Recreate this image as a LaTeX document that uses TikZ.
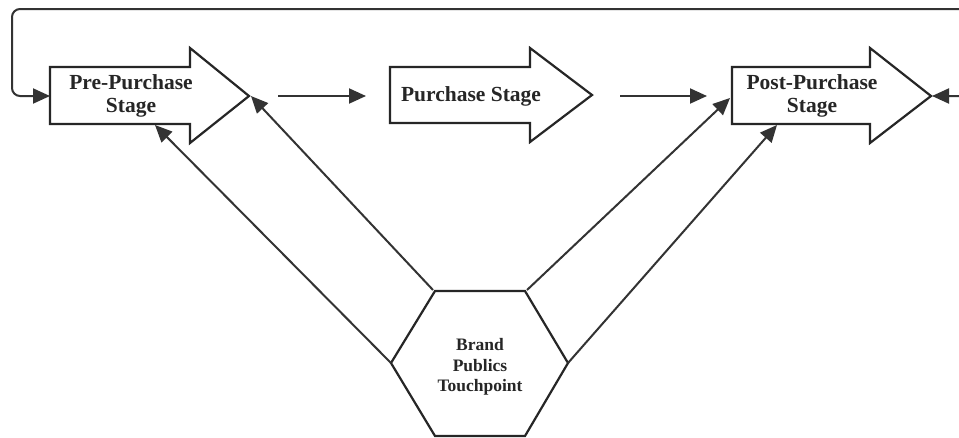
\documentclass[tikz,border=0pt]{standalone}
\usepackage{fontspec}
\setmainfont{Liberation Serif}
\usetikzlibrary{arrows.meta}
\begin{document}
\begin{tikzpicture}[x=1pt,y=-1pt,
  shp/.style={draw=black!85, line width=2.2pt, line join=miter, fill=white},
  conn/.style={draw=black!80, line width=2pt, -{Triangle[length=17pt,width=15pt]}},
  lbl/.style={font=\bfseries\fontsize{21.5}{23}\selectfont, text=black!85, align=center, inner sep=0pt},
  hlbl/.style={font=\bfseries\fontsize{17.5}{20.5}\selectfont, text=black!85, align=center, inner sep=0pt}]
\useasboundingbox[fill=white] (0,0) rectangle (959,437);
% stage arrows
\draw[shp] (50,67) -- (190,67) -- (190,48) -- (249,96) -- (190,143) -- (190,124) -- (50,124) -- cycle;
\draw[shp] (390,67) -- (530,67) -- (530,48) -- (592,95) -- (530,142) -- (530,123) -- (390,123) -- cycle;
\draw[shp] (732,67) -- (870,67) -- (870,48) -- (931,96) -- (870,143) -- (870,124) -- (732,124) -- cycle;
\node[lbl] (pre) at (131,96) {Pre-Purchase\\Stage};
\node[lbl] (pur) at (471,96) {Purchase Stage};
\node[lbl] (post) at (812,96) {Post-Purchase\\Stage};
% hexagon
\draw[shp] (435,291) -- (525,291) -- (568,363) -- (525,436) -- (435,436) -- (391,363) -- cycle;
\node[hlbl] (hex) at (480,367) {Brand\\Publics\\Touchpoint};
% named anchor points
\coordinate (preL) at (50,96);
\coordinate (preB) at (155,125);
\coordinate (preT) at (251,96);
\coordinate (postT) at (932,96);
\coordinate (postL) at (730,98);
\coordinate (postB) at (777,125);
\coordinate (hexTL) at (433,290);
\coordinate (hexL) at (391,363);
\coordinate (hexTR) at (527,290);
\coordinate (hexR) at (568,363);
\coordinate (a1) at (278,96);
\coordinate (a1e) at (366,96);
\coordinate (a2) at (620,96);
\coordinate (a2e) at (707,96);
% horizontal arrows
\draw[conn] (a1) -- (a1e);
\draw[conn] (a2) -- (a2e);
% diagonals
\draw[conn] (hexL) -- (preB);
\draw[conn] (hexTL) -- (preT);
\draw[conn] (hexTR) -- (postL);
\draw[conn] (hexR) -- (postB);
% feedback loop
\draw[conn, {Triangle[length=17pt,width=15pt]}-{Triangle[length=17pt,width=15pt]}, rounded corners=8pt]
  (postT) -- (975,96) -- (975,9) -- (12,9) -- (12,96) -- (preL);
\end{tikzpicture}
\end{document}
